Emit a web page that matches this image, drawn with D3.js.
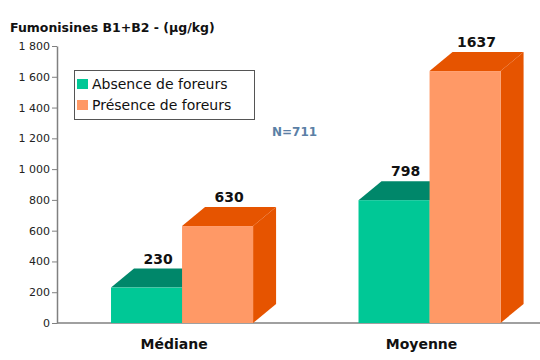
<!DOCTYPE html>
<html><head><meta charset="utf-8">
<script src="https://cdn.jsdelivr.net/npm/d3@7"></script>
<style>body{margin:0;background:#fff}svg{display:block}</style>
</head><body>
<script>
const categories = ["Médiane", "Moyenne"];
const series = ["Absence de foreurs", "Présence de foreurs"];
const absence = [230, 798];
const presence = [630, 1637];
const yTicks = [0, 200, 400, 600, 800, 1000, 1200, 1400, 1600, 1800];
const title = "Fumonisines B1+B2 - (µg/kg)";
const note = "N=711";

const W = 540, H = 360;
const frontColors = ["#00c896", "#ff9966"];
const topColors = ["#00876a", "#e65400"];
const sideColors = ["#00876a", "#e65400"];
const dx = 23, dy = 19;

const svg = d3.select("body").append("svg").attr("width", W).attr("height", H)
  .style("font-family", "'DejaVu Sans', Verdana, sans-serif");

const y = d3.scaleLinear().domain([0, 1800]).range([323, 46]);
const x = d3.scaleBand().domain(categories).range([58.3, 553.3]).paddingInner(0.426).paddingOuter(0.213);
const xs = d3.scaleBand().domain(series).range([0, x.bandwidth()]);

const locale = d3.formatLocale({decimal: ",", thousands: " ", grouping: [3], currency: ["", " €"]});
const fmt = locale.format(",d");

// baseline
svg.append("line").attr("x1", 57).attr("x2", W).attr("y1", y(0)).attr("y2", y(0))
  .attr("stroke", "#808080").attr("stroke-width", 1.5);

// y axis
const ax = svg.append("g").attr("transform", "translate(57,0)")
  .call(d3.axisLeft(y).tickValues(yTicks).tickFormat(fmt).tickSize(5).tickPadding(2).tickSizeOuter(0));
ax.select(".domain").attr("stroke", "#808080").attr("stroke-width", 1.5);
ax.selectAll(".tick line").attr("stroke", "#808080");
ax.selectAll(".tick text").attr("fill", "#222").style("font-size", "11px")
  .style("font-family", "'DejaVu Sans', Verdana, sans-serif");

const data = [];
categories.forEach((c, i) => {
  data.push({c, s: series[0], si: 0, v: absence[i]});
  data.push({c, s: series[1], si: 1, v: presence[i]});
});

const y0 = y(0);
const g = svg.append("g");
data.forEach(d => {
  const bx = x(d.c) + xs(d.s), bw = xs.bandwidth(), by = y(d.v);
  g.append("polygon").attr("points", [[bx+bw, by], [bx+bw+dx, by-dy], [bx+bw+dx, y0-dy], [bx+bw, y0]].join(" "))
    .attr("fill", sideColors[d.si]);
  g.append("polygon").attr("points", [[bx, by], [bx+dx, by-dy], [bx+bw+dx, by-dy], [bx+bw, by]].join(" "))
    .attr("fill", topColors[d.si]);
  g.append("rect").attr("x", bx).attr("y", by).attr("width", bw).attr("height", y0 - by)
    .attr("fill", frontColors[d.si]);
  svg.append("text").attr("x", bx + bw/2 + dx/2).attr("y", by - dy - 5)
    .attr("text-anchor", "middle").style("font-size", "14px").style("font-weight", "bold")
    .attr("fill", "#111").text(d.v);
});

categories.forEach(c => {
  svg.append("text").attr("x", x(c) + x.bandwidth()/2 - 8).attr("y", 349)
    .attr("text-anchor", "middle").style("font-size", "14px").style("font-weight", "bold")
    .attr("fill", "#111").text(c);
});

svg.append("text").attr("x", 10).attr("y", 32).style("font-size", "12.5px").style("font-weight", "bold")
  .attr("fill", "#111").text(title);

const lg = svg.append("g");
lg.append("rect").attr("x", 74.5).attr("y", 70.5).attr("width", 180).attr("height", 49)
  .attr("fill", "#fff").attr("stroke", "#555").attr("stroke-width", 1);
series.forEach((s, i) => {
  lg.append("rect").attr("x", 77).attr("y", 79 + i*21).attr("width", 11).attr("height", 10).attr("fill", frontColors[i]);
  lg.append("text").attr("x", 92).attr("y", 89 + i*21).style("font-size", "14px").attr("fill", "#111").text(s);
});

svg.append("text").attr("x", 272).attr("y", 136).style("font-size", "12px").style("font-weight", "bold")
  .attr("fill", "#5b7fa6").text(note);
</script>
</body></html>
